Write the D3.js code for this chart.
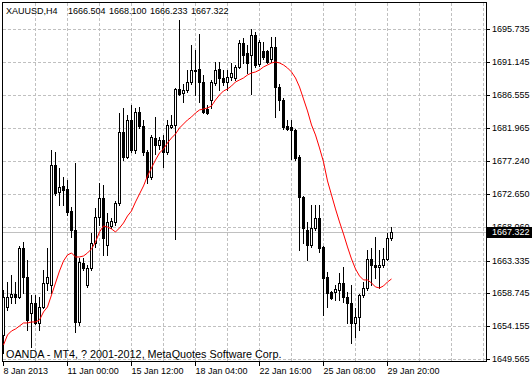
<!DOCTYPE html>
<html><head><meta charset="utf-8">
<script src="https://cdn.jsdelivr.net/npm/d3@7"></script>
<style>
html,body{margin:0;padding:0;background:#fff;}
svg{display:block;}
text{font-family:"Liberation Sans",Arial,sans-serif;}
</style></head><body>
<svg id="chart" width="532" height="379"></svg>
<script>
const symbolTitle = "XAUUSD,H4";
const lastBar = ["1666.504", "1668.100", "1666.233", "1667.322"];
const copyright = "OANDA - MT4, ? 2001-2012, MetaQuotes Software Corp.";

const open = [
1652.93, 1656.85, 1658.25, 1658.67, 1658.25, 1665.11, 1661.05, 1656.01, 1657.41, 1654.61,
1656.85, 1660.21, 1659.93, 1676.73, 1672.95, 1673.79, 1673.37, 1670.29, 1667.63, 1654.75,
1663.01, 1659.93, 1662.31, 1665.81, 1669.45, 1672.11, 1665.53, 1668.19, 1668.75, 1671.41,
1681.35, 1677.85, 1683.03, 1678.83, 1684.15, 1682.19, 1678.55, 1675.05, 1680.51, 1679.53,
1680.23, 1678.55, 1682.05, 1682.33, 1687.37, 1686.81, 1687.23, 1688.35, 1689.89, 1690.17,
1688.35, 1684.57, 1685.83, 1688.21, 1690.17, 1688.91, 1688.35, 1689.05, 1688.91, 1690.45,
1693.81, 1692.41, 1692.13, 1694.93, 1690.87, 1692.69, 1692.69, 1691.57, 1693.25, 1687.65,
1685.83, 1682.19, 1682.05, 1681.63, 1677.85, 1672.25, 1667.63, 1665.53, 1667.91, 1669.31,
1665.25, 1661.05, 1658.95, 1658.95, 1659.23, 1660.21, 1658.25, 1657.41, 1654.61, 1655.45,
1658.53, 1659.51, 1663.57, 1662.73, 1662.45, 1662.73, 1663.57, 1666.504
];
const high = [
1659.23, 1660.35, 1661.33, 1660.35, 1665.39, 1665.95, 1663.43, 1658.53, 1658.53, 1658.25,
1662.03, 1665.11, 1678.83, 1678.55, 1676.31, 1675.05, 1674.63, 1670.85, 1677.01, 1663.71,
1663.71, 1662.73, 1667.21, 1670.71, 1674.21, 1673.93, 1670.01, 1669.31, 1671.69, 1684.01,
1684.71, 1683.73, 1685.13, 1684.71, 1684.85, 1683.03, 1678.83, 1680.93, 1683.45, 1680.65,
1680.93, 1683.03, 1683.73, 1687.51, 1697.03, 1688.07, 1690.03, 1693.53, 1692.83, 1695.07,
1689.33, 1685.13, 1688.63, 1691.15, 1691.15, 1690.03, 1690.03, 1691.01, 1690.73, 1694.23,
1694.51, 1693.53, 1695.77, 1695.35, 1694.23, 1693.95, 1692.83, 1694.65, 1694.65, 1688.07,
1686.11, 1683.03, 1683.03, 1681.77, 1678.13, 1672.39, 1668.75, 1671.13, 1671.13, 1671.13,
1665.39, 1661.75, 1659.09, 1659.93, 1661.61, 1662.45, 1658.95, 1659.93, 1656.71, 1658.67,
1660.35, 1664.83, 1665.11, 1666.65, 1664.83, 1665.11, 1667.21, 1668.100
];
const low = [
1650.41, 1656.43, 1657.41, 1657.41, 1658.11, 1658.81, 1653.63, 1651.25, 1654.47, 1653.63,
1656.71, 1659.23, 1658.81, 1672.53, 1671.13, 1671.13, 1669.73, 1666.65, 1653.35, 1654.33,
1662.03, 1659.65, 1662.03, 1665.25, 1668.33, 1664.13, 1664.13, 1667.91, 1668.33, 1671.13,
1677.43, 1677.71, 1678.55, 1678.41, 1681.91, 1678.13, 1674.21, 1674.77, 1678.27, 1678.97,
1676.45, 1678.27, 1681.91, 1666.37, 1686.53, 1685.55, 1686.95, 1688.07, 1686.53, 1685.55,
1684.01, 1683.87, 1684.71, 1687.93, 1687.23, 1687.93, 1687.23, 1688.63, 1688.63, 1690.31,
1691.01, 1689.61, 1686.67, 1690.45, 1690.59, 1691.57, 1691.01, 1691.15, 1683.45, 1684.43,
1681.77, 1681.63, 1677.57, 1677.43, 1664.83, 1665.81, 1663.43, 1665.25, 1667.63, 1664.55,
1655.73, 1656.85, 1657.97, 1657.83, 1657.83, 1657.55, 1654.61, 1651.81, 1652.65, 1653.63,
1658.25, 1659.23, 1659.93, 1660.91, 1659.51, 1662.45, 1663.43, 1666.233
];
const close = [
1658.25, 1658.25, 1658.67, 1658.25, 1665.11, 1661.05, 1655.03, 1657.41, 1654.61, 1656.85,
1660.21, 1661.05, 1676.73, 1672.81, 1673.65, 1673.23, 1670.15, 1667.63, 1654.75, 1663.15,
1662.31, 1662.31, 1665.81, 1669.45, 1672.11, 1666.51, 1668.75, 1668.89, 1671.41, 1681.35,
1677.85, 1683.03, 1678.83, 1684.15, 1682.19, 1678.55, 1675.05, 1680.65, 1679.53, 1680.23,
1678.55, 1682.33, 1682.33, 1687.37, 1686.67, 1687.23, 1688.35, 1690.03, 1690.03, 1688.35,
1684.15, 1684.01, 1688.35, 1690.03, 1688.91, 1688.35, 1689.05, 1689.61, 1690.45, 1693.81,
1692.13, 1691.01, 1694.93, 1690.73, 1693.95, 1691.85, 1691.15, 1693.25, 1687.65, 1685.83,
1682.05, 1681.77, 1681.63, 1677.71, 1672.25, 1667.91, 1665.53, 1667.91, 1669.31, 1665.11,
1660.91, 1658.81, 1658.11, 1659.37, 1660.21, 1658.25, 1657.41, 1654.61, 1655.45, 1658.53,
1659.51, 1663.57, 1662.73, 1662.45, 1662.73, 1663.57, 1666.51, 1667.322
];
const ma = [
1651.53, 1652.93, 1653.49, 1653.77, 1654.19, 1654.61, 1654.61, 1654.75, 1654.75, 1655.03,
1656.15, 1656.85, 1658.53, 1660.21, 1661.89, 1663.29, 1664.13, 1664.41, 1663.85, 1663.85,
1663.99, 1664.41, 1664.97, 1665.95, 1667.35, 1668.19, 1668.05, 1667.77, 1667.35, 1667.91,
1668.61, 1669.59, 1670.29, 1671.55, 1672.67, 1673.79, 1675.19, 1676.31, 1677.43, 1678.41,
1678.97, 1679.81, 1680.51, 1681.07, 1681.91, 1682.47, 1683.03, 1683.45, 1684.01, 1684.43,
1684.57, 1684.71, 1684.99, 1685.83, 1686.53, 1687.09, 1687.37, 1687.79, 1688.35, 1688.63,
1688.91, 1689.33, 1689.61, 1689.75, 1690.03, 1690.45, 1690.73, 1691.01, 1691.15, 1691.01,
1690.73, 1690.31, 1689.75, 1688.91, 1687.65, 1685.97, 1684.29, 1682.33, 1680.93, 1679.11,
1677.15, 1674.49, 1672.53, 1670.57, 1668.75, 1667.07, 1665.25, 1663.57, 1662.17, 1661.19,
1660.63, 1660.63, 1660.21, 1659.65, 1659.51, 1659.79, 1660.35, 1660.77
];

const xTickBars = [0, 16, 32, 48, 64, 80, 96];
const xTickLabels = ["8 Jan 2013", "11 Jan 00:00", "15 Jan 12:00", "18 Jan 04:00", "22 Jan 16:00", "25 Jan 08:00", "29 Jan 20:00"];
const yTickValues = [1695.735, 1691.145, 1686.555, 1681.965, 1677.240, 1672.650, 1668.060, 1663.335, 1658.745, 1654.155, 1649.565];
const yTickLabels = ["1695.735", "1691.145", "1686.555", "1681.965", "1677.240", "1672.650", "1668.060", "1663.335", "1658.745", "1654.155", "1649.565"];
const bidPrice = 1667.322;
const bidLabel = "1667.322";
const gridEvery = 8;

const svg = d3.select("#chart");
const x = d3.scaleLinear().domain([0, 121]).range([3, 487]);
const xr = x.copy().interpolate(d3.interpolateRound);
const y = d3.scaleLinear().domain([1649.145, 1699.545]).range([362, 2]);
const yr = y.copy().interpolate(d3.interpolateRound);

const gridColor = "#c0c0c0";
// grid
const grid = svg.append("g");
grid.selectAll("line.v").data(d3.range(gridEvery, 121, gridEvery)).join("line")
  .attr("x1", d => xr(d) + 0.5).attr("x2", d => xr(d) + 0.5)
  .attr("y1", 3).attr("y2", 361)
  .attr("stroke", gridColor).attr("stroke-dasharray", "3,2");
grid.selectAll("line.h").data(yTickValues).join("line")
  .attr("x1", 3).attr("x2", 486)
  .attr("y1", d => yr(d) + 0.5).attr("y2", d => yr(d) + 0.5)
  .attr("stroke", gridColor).attr("stroke-dasharray", "3,2");

// bid line
svg.append("line").attr("x1", 3).attr("x2", 486)
  .attr("y1", yr(bidPrice) + 0.5).attr("y2", yr(bidPrice) + 0.5)
  .attr("stroke", gridColor);

// candles
const idx = d3.range(open.length);
const cg = svg.append("g");
cg.selectAll("rect.wick").data(idx).join("rect")
  .attr("x", i => xr(i)).attr("y", i => yr(high[i]))
  .attr("width", 1).attr("height", i => yr(low[i]) - yr(high[i]) + 1)
  .attr("fill", "#000");
cg.selectAll("rect.body").data(idx).join("rect")
  .attr("x", i => xr(i) - 0.5)
  .attr("y", i => yr(Math.max(open[i], close[i])) + 0.5)
  .attr("width", 2)
  .attr("height", i => Math.max(0, yr(Math.min(open[i], close[i])) - yr(Math.max(open[i], close[i]))))
  .attr("fill", i => close[i] >= open[i] ? "#fff" : "#000")
  .attr("stroke", "#000").attr("stroke-width", 1);

// moving average
svg.append("path").datum(ma)
  .attr("d", d3.line().x((d, i) => x(i) + 0.5).y(d => y(d)))
  .attr("fill", "none").attr("stroke", "#ff0000").attr("stroke-width", 1);

// frame
svg.append("rect").attr("x", 2.5).attr("y", 2.5).attr("width", 484).attr("height", 359)
  .attr("fill", "none").attr("stroke", "#000");

// right axis
const ya = svg.append("g").attr("transform", "translate(486,0)")
  .call(d3.axisRight(yr).tickValues(yTickValues).tickFormat((d, i) => yTickLabels[i])
    .tickSize(4).tickSizeOuter(0).tickPadding(2));
ya.select(".domain").remove();
ya.attr("font-family", "Liberation Sans, Arial, sans-serif").attr("font-size", 9);
ya.selectAll("text").attr("fill", "#000");
ya.selectAll("line").attr("stroke", "#000");

// bottom axis
const xa = svg.append("g").attr("transform", "translate(0,362)")
  .call(d3.axisBottom(xr).tickValues(xTickBars).tickFormat((d, i) => xTickLabels[i])
    .tickSize(4).tickSizeOuter(0).tickPadding(2));
xa.select(".domain").remove();
xa.attr("font-family", "Liberation Sans, Arial, sans-serif").attr("font-size", 9);
xa.selectAll("text").attr("text-anchor", "start").attr("fill", "#000");
xa.selectAll("line").attr("stroke", "#000");

// bid label
const by = yr(bidPrice);
svg.append("rect").attr("x", 487).attr("y", by - 5).attr("width", 45).attr("height", 11).attr("fill", "#000");
svg.append("text").attr("x", 492).attr("y", by + 0.5).attr("dy", "0.32em")
  .attr("font-size", 9).attr("fill", "#fff").text(bidLabel);

// header
const hx = [6, 68, 109, 150, 191];
const header = svg.append("text").attr("y", 14).attr("font-size", 9).attr("fill", "#000");
[symbolTitle].concat(lastBar).forEach((t, i) => {
  header.append("tspan").attr("x", hx[i]).text(t);
});

// copyright
svg.append("text").attr("x", 6).attr("y", 358).attr("font-size", 10.8).attr("fill", "#000").text(copyright);
</script>
</body></html>
